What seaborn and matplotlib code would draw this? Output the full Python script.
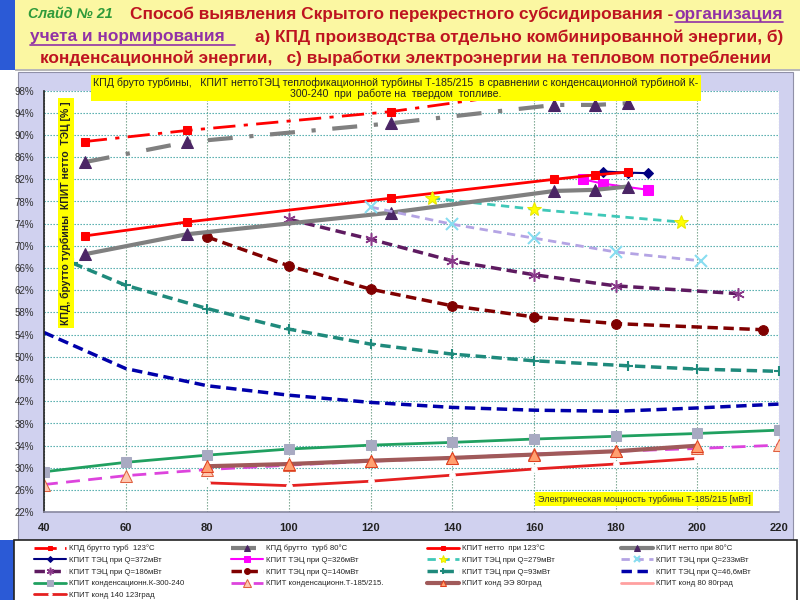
import numpy as np
import pandas as pd
import matplotlib
matplotlib.use("Agg")
import matplotlib.pyplot as plt
import seaborn as sns
from matplotlib.patches import Rectangle
from matplotlib.lines import Line2D

# ---------------- data ----------------
x_brutto123 = [50, 75, 125, 165]
brutto_123 = [88.8, 90.8, 94.2, 98.3]
x_turb = [50, 75, 125, 165, 175, 183]
brutto_80 = [85.1, 88.7, 92.1, 95.4, 95.4, 95.7]
netto_123 = [71.8, 74.3, 78.6, 82.0, 82.8, 83.3]
netto_80 = [68.5, 72.1, 76.0, 79.9, 80.1, 80.7]
x_q372 = [177, 183, 188]
q372 = [83.4, 83.2, 83.1]
x_q326 = [172, 177, 188]
q326 = [82.0, 81.2, 80.1]
x_q279 = [135, 160, 196]
q279 = [78.6, 76.6, 74.3]
x_q233 = [120, 140, 160, 180, 201]
q233 = [77.0, 73.9, 71.4, 68.9, 67.3]
x_q186 = [100, 120, 140, 160, 180, 210]
q186 = [74.8, 71.2, 67.3, 64.8, 62.8, 61.4]
x_q140 = [80, 100, 120, 140, 160, 180, 216]
q140 = [71.6, 66.4, 62.2, 59.2, 57.2, 56.0, 54.9]
x_q93 = [47, 60, 80, 100, 120, 140, 160, 183, 200, 220]
q93 = [66.9, 62.9, 58.7, 55.0, 52.3, 50.5, 49.3, 48.4, 47.8, 47.4]
x_full = [40, 60, 80, 100, 120, 140, 160, 180, 200, 220]
q46 = [54.4, 47.9, 44.8, 43.1, 41.8, 40.9, 40.4, 40.2, 40.8, 41.5]
k300 = [29.3, 31.0, 32.3, 33.4, 34.1, 34.6, 35.2, 35.7, 36.2, 36.8]
t185 = [27.0, 28.6, 29.7, 30.5, 31.2, 31.8, 32.5, 33.0, 33.5, 34.1]
x_kond = [80, 100, 120, 140, 160, 180, 200]
kond_ee80 = [30.3, 30.7, 31.3, 31.8, 32.4, 33.0, 34.0]
kond140 = [27.3, 26.8, 27.6, 28.7, 29.8, 30.7, 31.7]

x_ticks = [40, 60, 80, 100, 120, 140, 160, 180, 200, 220]
y_ticks = list(range(22, 99, 4))

labels = ["КПД брутто турб  123°C", "КПИТ ТЭЦ при Q=372мВт", "КПИТ ТЭЦ при Q=186мВт",
          "КПИТ конденсационн.К-300-240", "КПИТ конд 140 123град",
          "КПД брутто  турб 80°C", "КПИТ ТЭЦ при Q=326мВт", "КПИТ ТЭЦ при Q=140мВт",
          "КПИТ конденсационн.Т-185/215.",
          "КПИТ нетто  при 123°C", "КПИТ ТЭЦ при Q=279мВт", "КПИТ ТЭЦ при Q=93мВт",
          "КПИТ конд ЭЭ 80град",
          "КПИТ нетто при 80°C", "КПИТ ТЭЦ при Q=233мВт", "КПИТ ТЭЦ при Q=46,6мВт",
          "КПИТ конд 80 80град"]

# ---------------- style ----------------
sns.set_style("white")
plt.rcParams["font.family"] = ["Liberation Sans", "DejaVu Sans"]

W, H = 800, 600
fig = plt.figure(figsize=(8, 6), dpi=100, facecolor="white")

def fx(px):
    return px / W

def fy(py):
    return 1 - py / H

# decorative background
fig.patches.append(Rectangle((fx(15), fy(69)), fx(785), 69 / H, transform=fig.transFigure,
                             facecolor="#FBF7A2", edgecolor="none", zorder=-10))
fig.patches.append(Rectangle((0, fy(70)), fx(15), 70 / H, transform=fig.transFigure,
                             facecolor="#2B5AD6", edgecolor="none", zorder=-10))
fig.patches.append(Rectangle((0, 0), fx(15), 60 / H, transform=fig.transFigure,
                             facecolor="#2B5AD6", edgecolor="none", zorder=-10))
fig.patches.append(Rectangle((fx(15), fy(71)), fx(785), 2 / H, transform=fig.transFigure,
                             facecolor="#B8B8B8", edgecolor="none", zorder=-9))
fig.patches.append(Rectangle((fx(18), fy(540)), fx(775), 468 / H, transform=fig.transFigure,
                             facecolor="#D0D1EF", edgecolor="#9090A8", lw=0.8, zorder=-8))
fig.patches.append(Rectangle((fx(14), fy(602)), fx(783), 62 / H, transform=fig.transFigure,
                             facecolor="white", edgecolor="#222222", lw=1.2, zorder=-7))

ax = fig.add_axes([fx(44), fy(512.3), fx(779) - fx(44), (512.3 - 90.5) / H])
ax.set_facecolor("white")

def draw(xs, ys, **kw):
    sns.lineplot(x=xs, y=ys, ax=ax, sort=False, **kw)
    return ax.lines[-1]

handles = []
handles.append(draw(x_brutto123, brutto_123, color="#FF0000", lw=2, linestyle=(0, (8, 3, 1.5, 3)),
                    marker="s", markersize=6, markerfacecolor="#FF0000", markeredgecolor="#FF0000"))
handles.append(draw(x_q372, q372, color="#000080", lw=1.5, marker="D", markersize=5,
                    markerfacecolor="#000080", markeredgecolor="#000080"))
handles.append(draw(x_q186, q186, color="#5E1A60", lw=2.5, linestyle=(0, (3, 1.6)),
                    marker=(6, 2, 0), markersize=9, markeredgewidth=1.1,
                    markerfacecolor="#8A3A8A", markeredgecolor="#8A3A8A"))
handles.append(draw(x_full, k300, color="#20A060", lw=2, marker="s", markersize=7,
                    markerfacecolor="#A8AAC2", markeredgecolor="#A8AAC2"))
handles.append(draw(x_kond, kond140, color="#E52020", lw=2, marker="o", markersize=4,
                    markerfacecolor="white", markeredgecolor="white"))
handles.append(draw(x_turb, brutto_80, color="#808080", lw=3, linestyle=(0, (6, 4, 1, 4)),
                    marker="^", markersize=8, markerfacecolor="#4B2565", markeredgecolor="#4B2565"))
handles.append(draw(x_q326, q326, color="#FF00FF", lw=1.5, marker="s", markersize=7,
                    markerfacecolor="#FF00FF", markeredgecolor="#FF00FF"))
handles.append(draw(x_q140, q140, color="#800000", lw=2.5, linestyle=(0, (3, 1.6)),
                    marker="o", markersize=7, markerfacecolor="#800000", markeredgecolor="#800000"))
handles.append(draw(x_full, t185, color="#DD44DD", lw=2, linestyle=(0, (5, 3)),
                    marker="^", markersize=9, markerfacecolor="#FFC8B0", markeredgecolor="#E06040"))
handles.append(draw(x_turb, netto_123, color="#FF0000", lw=2, marker="s", markersize=6,
                    markerfacecolor="#FF0000", markeredgecolor="#FF0000"))
handles.append(draw(x_q279, q279, color="#40C8B8", lw=2, linestyle=(0, (3, 2)),
                    marker="*", markersize=10, markerfacecolor="#FFFF00", markeredgecolor="#E8E800"))
handles.append(draw(x_q93, q93, color="#1F8A7C", lw=2.5, linestyle=(0, (3, 1.6)),
                    marker="+", markersize=7, markeredgewidth=1.5,
                    markerfacecolor="#1F8A7C", markeredgecolor="#1F8A7C"))
handles.append(draw(x_kond, kond_ee80, color="#A05A5A", lw=3, marker="^", markersize=8,
                    markerfacecolor="#FFA070", markeredgecolor="#E04020"))
handles.append(draw(x_turb, netto_80, color="#808080", lw=3, marker="^", markersize=8,
                    markerfacecolor="#4B2565", markeredgecolor="#4B2565"))
handles.append(draw(x_q233, q233, color="#B4A4E4", lw=2, linestyle=(0, (3, 2)),
                    marker="x", markersize=8, markeredgewidth=1.5,
                    markerfacecolor="#88DDF0", markeredgecolor="#88DDF0"))
handles.append(draw(x_full, q46, color="#0000AA", lw=2.5, linestyle=(0, (3, 1.6))))
handles.append(Line2D([], [], color="#FFA0A0", lw=2))

if ax.get_legend() is not None:
    ax.get_legend().remove()

ax.set_xlim(40, 220)
ax.set_ylim(22, 98)
ax.set_xticks(x_ticks)
ax.set_xticklabels([str(v) for v in x_ticks], fontsize=8, fontweight="bold", color="#222222")
ax.set_yticks(y_ticks)
ax.set_yticklabels([f"{v}%" for v in y_ticks], fontsize=7, color="#333333")
ax.tick_params(axis="both", direction="out", length=4, width=0.8, color="#333333", pad=3)
ax.tick_params(axis="x", pad=4)
ax.grid(True, axis="y", linestyle=(0, (1.2, 1.5)), color="#3FA3A3", lw=0.8)
ax.grid(True, axis="x", linestyle=(0, (1.2, 1.5)), color="#6E9E86", lw=0.8)
ax.set_axisbelow(True)
for s in ["top", "right"]:
    ax.spines[s].set_visible(False)
ax.spines["left"].set_color("#222222")
ax.spines["left"].set_linewidth(1.2)
ax.spines["bottom"].set_color("#8888A0")
ax.spines["bottom"].set_linewidth(1.2)
ax.set_xlabel("")
ax.set_ylabel("")

# in-chart text boxes
fig.text(fx(396), fy(88), "КПД бруто турбины,   КПИТ неттоТЭЦ теплофикационной турбины Т-185/215  в сравнении с конденсационной турбиной К-\n300-240  при  работе на  твердом  топливе.",
         ha="center", va="center", fontsize=7.6, color="#222222", linespacing=1.05,
         bbox=dict(boxstyle="square,pad=0.2", facecolor="#FFFF00", edgecolor="none"), zorder=20)
fig.text(fx(66), fy(213), "КПД, брутто турбины  КПИТ нетто  ТЭЦ [% ]", rotation=90,
         ha="center", va="center", fontsize=7.5, fontweight="bold", color="#222222",
         bbox=dict(boxstyle="square,pad=0.3", facecolor="#FFFF00", edgecolor="none"), zorder=20)
fig.text(fx(644), fy(499), "Электрическая мощность турбины Т-185/215 [мВт]",
         ha="center", va="center", fontsize=6.5, color="#333333",
         bbox=dict(boxstyle="square,pad=0.3", facecolor="#FFFF00", edgecolor="none"), zorder=20)

# legend: four columns placed like the reference
col_slices = [(0, 5), (5, 9), (9, 13), (13, 17)]
col_x = [32, 229, 425, 619]
for (a, b), cx in zip(col_slices, col_x):
    lg = fig.legend(handles[a:b], labels[a:b], loc="upper left",
                    bbox_to_anchor=(fx(cx), fy(543)), fontsize=5.6, frameon=False,
                    handlelength=4.2, handletextpad=0.4, labelspacing=0.55,
                    borderaxespad=0.0, borderpad=0.2, markerscale=0.6)

# slide title with mixed colours
RED = "#BE1420"
PURPLE = "#9131A6"
GREEN = "#2E9A3A"
fig.canvas.draw()
rend = fig.canvas.get_renderer()

def width(t):
    return t.get_window_extent(rend).width

probe = fig.text(0, 0, "Способ выявления Скрытого перекрестного субсидирования - организация",
                 fontsize=12, fontweight="bold")
fs = 12 * 653 / width(probe)
probe.remove()

fig.text(fx(28), fy(14), "Слайд № 21", fontsize=fs * 0.82, fontweight="bold", fontstyle="italic",
         color=GREEN, ha="left", va="center")
fig.text(fx(130), fy(14), "Способ выявления Скрытого перекрестного субсидирования -",
         fontsize=fs, fontweight="bold", color=RED, ha="left", va="center")
t_org = fig.text(fx(783), fy(14), "организация", fontsize=fs, fontweight="bold",
                 color=PURPLE, ha="right", va="center")
t_uch = fig.text(fx(30), fy(37), "учета и нормирования", fontsize=fs, fontweight="bold",
                 color=PURPLE, ha="left", va="center")
fig.text(fx(783), fy(37), "а) КПД производства отдельно комбинированной энергии, б)",
         fontsize=fs, fontweight="bold", color=RED, ha="right", va="center")
fig.text(fx(40), fy(58), "конденсационной энергии,   с) выработки электроэнергии на тепловом потреблении",
         fontsize=fs, fontweight="bold", color=RED, ha="left", va="center")
fig.canvas.draw()
for t, extra in [(t_org, 0), (t_uch, 10)]:
    bb = t.get_window_extent(rend)
    yb = bb.y0 - 0.5
    fig.lines.append(Line2D([bb.x0 / W, (bb.x1 + extra) / W], [yb / H, yb / H],
                            transform=fig.transFigure, color=PURPLE, lw=1.2))

fig.savefig("out.png", dpi=100, facecolor="white")
